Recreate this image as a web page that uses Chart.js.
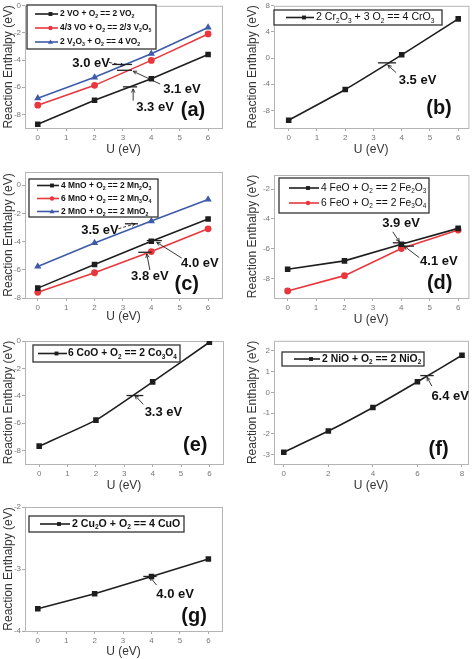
<!DOCTYPE html>
<html>
<head>
<meta charset="utf-8">
<script src="https://cdn.jsdelivr.net/npm/chart.js@4"></script>
<style>
  body { margin: 0; background: #fff; }
  #wrap { position: relative; width: 474px; height: 659px; overflow: hidden; }
  canvas { position: absolute; }
</style>
</head>
<body>
<div id="wrap">
  <canvas id="ca" width="237" height="165" style="left:0;top:0"></canvas>
  <canvas id="cb" width="237" height="165" style="left:237px;top:0"></canvas>
  <canvas id="cc" width="237" height="170" style="left:0;top:165px"></canvas>
  <canvas id="cd" width="237" height="170" style="left:237px;top:165px"></canvas>
  <canvas id="ce" width="237" height="165" style="left:0;top:335px"></canvas>
  <canvas id="cf" width="237" height="165" style="left:237px;top:335px"></canvas>
  <canvas id="cg" width="237" height="159" style="left:0;top:500px"></canvas>
</div>
<script>
const FONT = '"Liberation Sans", Arial, sans-serif';

// U values (eV)
const U = [0, 2, 4, 6];
const U8 = [0, 2, 4, 6, 8];

// (a) vanadium
const labelsA = ['2 VO + O_2 == 2 VO_2', '4/3 VO + O_2 == 2/3 V_2O_5', '2 V_2O_3 + O_2 == 4 VO_2'];
const vo_vo2 = [-8.72, -6.96, -5.37, -3.58];
const vo_v2o5 = [-7.32, -5.86, -4.02, -2.07];
const v2o3_vo2 = [-6.81, -5.27, -3.53, -1.6];
const yTicksA = [0, -2, -4, -6, -8];

// (b) chromium
const labelsB = ['2 Cr_2O_3 + 3 O_2 == 4 CrO_3'];
const cr2o3_cro3 = [-9.5, -4.8, 0.5, 6.0];
const yTicksB = [8, 4, 0, -4, -8];

// (c) manganese
const labelsC = ['4 MnO + O_2 == 2 Mn_2O_3', '6 MnO + O_2 == 2 Mn_3O_4', '2 MnO + O_2 == 2 MnO_2'];
const mno_mn2o3 = [-7.3, -5.62, -3.98, -2.4];
const mno_mn3o4 = [-7.6, -6.21, -4.71, -3.1];
const mno_mno2 = [-5.76, -4.1, -2.55, -1.02];
const yTicksC = [0, -2, -4, -6, -8];

// (d) iron
const labelsD = ['4 FeO + O_2 == 2 Fe_2O_3', '6 FeO + O_2 == 2 Fe_3O_4'];
const feo_fe2o3 = [-7.37, -6.81, -5.69, -4.63];
const feo_fe3o4 = [-8.83, -7.8, -5.98, -4.74];
const yTicksD = [-2, -4, -6, -8];

// (e) cobalt
const labelsE = ['6 CoO + O_2 == 2 Co_3O_4'];
const coo_co3o4 = [-7.69, -5.79, -2.99, -0.09];
const yTicksE = [0, -2, -4, -6, -8];

// (f) nickel
const labelsF = ['2 NiO + O_2 == 2 NiO_2'];
const nio_nio2 = [-2.89, -1.87, -0.73, 0.51, 1.79];
const yTicksF = [2, 1, 0, -1, -2, -3];

// (g) copper
const labelsG = ['2 Cu_2O + O_2 == 4 CuO'];
const cu2o_cuo = [-3.64, -3.4, -3.12, -2.84];
const yTicksG = [-2, -3, -4];

const xTicks6 = [0, 1, 2, 3, 4, 5, 6];
const xTicks8 = [0, 2, 4, 6, 8];

const BLACK = '#1e1e1e', RED = '#e8383d', BLUE = '#3d5ba8';

// text with "_x" subscripts
function richText(ctx, str, x, y, size, weight) {
  let cx = x;
  ctx.textBaseline = 'middle';
  ctx.textAlign = 'left';
  for (const p of str.split(/(_.)/)) {
    if (!p) continue;
    if (p[0] === '_') {
      ctx.font = weight + ' ' + (size * 0.62) + 'px ' + FONT;
      ctx.fillText(p[1], cx, y + size * 0.32);
      cx += ctx.measureText(p[1]).width;
    } else {
      ctx.font = weight + ' ' + size + 'px ' + FONT;
      ctx.fillText(p, cx, y);
      cx += ctx.measureText(p).width;
    }
  }
}

function marker(ctx, style, x, y, r) {
  ctx.beginPath();
  if (style === 'rect') {
    ctx.rect(x - r * 0.75, y - r * 0.75, r * 1.5, r * 1.5);
  } else if (style === 'circle') {
    ctx.arc(x, y, r * 0.85, 0, Math.PI * 2);
  } else {
    ctx.moveTo(x, y - r);
    ctx.lineTo(x + r, y + r * 0.7);
    ctx.lineTo(x - r, y + r * 0.7);
    ctx.closePath();
  }
  ctx.fill();
}

const framePlugin = {
  id: 'frame',
  beforeDatasetsDraw(chart) {
    const { ctx, chartArea: a } = chart;
    ctx.save();
    ctx.strokeStyle = '#b5b5b5';
    ctx.lineWidth = 1;
    ctx.strokeRect(a.left + 0.5, a.top + 0.5, a.right - a.left, a.bottom - a.top);
    ctx.restore();
  }
};

const legendPlugin = {
  id: 'lg',
  afterDatasetsDraw(chart, args, o) {
    const ctx = chart.ctx;
    ctx.save();
    ctx.fillStyle = '#fff';
    ctx.fillRect(o.box[0], o.box[1], o.box[2], o.box[3]);
    ctx.strokeStyle = '#333';
    ctx.lineWidth = 1.3;
    ctx.strokeRect(o.box[0], o.box[1], o.box[2], o.box[3]);
    chart.data.datasets.forEach((ds, i) => {
      const y = o.rows[i];
      ctx.strokeStyle = ds.borderColor;
      ctx.fillStyle = ds.borderColor;
      ctx.lineWidth = 1.6;
      ctx.beginPath();
      ctx.moveTo(o.line[0], y);
      ctx.lineTo(o.line[1], y);
      ctx.stroke();
      marker(ctx, ds.pointStyle, (o.line[0] + o.line[1]) / 2 + 4, y, 2.6);
      ctx.fillStyle = '#111';
      richText(ctx, ds.label, o.tx, y, o.size, o.weight);
    });
    ctx.restore();
  }
};

const notePlugin = {
  id: 'notes',
  afterDraw(chart, args, o) {
    const { ctx, scales: { x, y } } = chart;
    const px = v => x.getPixelForValue(v), py = v => y.getPixelForValue(v);
    ctx.save();
    (o.ticks || []).forEach(t => {
      ctx.strokeStyle = '#222';
      ctx.lineWidth = 1.3;
      ctx.beginPath();
      ctx.moveTo(px(t[0]), py(t[2]));
      ctx.lineTo(px(t[1]), py(t[2]));
      ctx.stroke();
    });
    (o.arrows || []).forEach(a => {
      const x1 = px(a[0]), y1 = py(a[1]), x2 = px(a[2]), y2 = py(a[3]);
      ctx.strokeStyle = '#222';
      ctx.lineWidth = 0.9;
      ctx.setLineDash(a[4] ? [3, 2] : []);
      ctx.beginPath();
      ctx.moveTo(x1, y1);
      ctx.lineTo(x2, y2);
      ctx.stroke();
      ctx.setLineDash([]);
      const ang = Math.atan2(y2 - y1, x2 - x1);
      ctx.beginPath();
      ctx.moveTo(x2 - 4 * Math.cos(ang - 0.45), y2 - 4 * Math.sin(ang - 0.45));
      ctx.lineTo(x2, y2);
      ctx.lineTo(x2 - 4 * Math.cos(ang + 0.45), y2 - 4 * Math.sin(ang + 0.45));
      ctx.stroke();
    });
    (o.texts || []).forEach(t => {
      ctx.fillStyle = '#111';
      ctx.font = 'bold ' + t[3] + 'px ' + FONT;
      ctx.textAlign = 'center';
      ctx.textBaseline = 'middle';
      ctx.fillText(t[0], px(t[1]), py(t[2]));
    });
    ctx.restore();
  }
};

function panel(id, p) {
  new Chart(document.getElementById(id), {
    type: 'scatter',
    data: {
      datasets: p.series.map(s => ({
        label: s.label,
        data: s.x.map((u, i) => ({ x: u, y: s.y[i] })),
        showLine: true,
        borderColor: s.color,
        backgroundColor: s.color,
        pointStyle: s.point,
        pointRadius: s.point === 'rect' ? 2.8 : 2.6,
        borderWidth: 1.6,
        tension: p.tension || 0
      }))
    },
    options: {
      responsive: false,
      animation: false,
      events: [],
      layout: { padding: { top: p.pad[0], right: p.pad[1], bottom: 0, left: 0 } },
      plugins: {
        legend: { display: false },
        tooltip: { enabled: false },
        lg: p.legend,
        notes: p.notes
      },
      scales: {
        x: {
          type: 'linear',
          min: p.xr[0], max: p.xr[1],
          afterBuildTicks: s => { s.ticks = p.xTicks.map(v => ({ value: v })); },
          afterFit: s => { s.height = p.xH; },
          grid: { drawOnChartArea: false, tickLength: 3, color: '#aaa' },
          border: { display: false },
          ticks: { padding: 2, color: '#777', font: { size: 8, family: FONT } },
          title: { display: true, text: 'U (eV)', color: '#333', padding: { top: 0, bottom: p.xtb }, font: { size: 12, family: FONT } }
        },
        y: {
          type: 'linear',
          min: p.yr[0], max: p.yr[1],
          afterBuildTicks: s => { s.ticks = p.yTicks.map(v => ({ value: v })); },
          afterFit: s => { s.width = p.yW; },
          grid: { drawOnChartArea: false, tickLength: 3, color: '#aaa' },
          border: { display: false },
          ticks: { padding: 1, color: '#777', font: { size: 8, family: FONT } },
          title: { display: true, text: 'Reaction Enthalpy (eV)', color: '#333', padding: { top: p.ytp, bottom: 0 }, font: { size: 12, family: FONT } }
        }
      }
    },
    plugins: [framePlugin, legendPlugin, notePlugin]
  });
}

panel('ca', {
  pad: [3, 15], yW: 25, xH: 37, xtb: 7.8, ytp: 1,
  xr: [-0.45, 6.49], yr: [-9, 0], xTicks: xTicks6, yTicks: yTicksA,
  series: [
    { label: labelsA[0], x: U, y: vo_vo2, color: BLACK, point: 'rect' },
    { label: labelsA[1], x: U, y: vo_v2o5, color: RED, point: 'circle' },
    { label: labelsA[2], x: U, y: v2o3_vo2, color: BLUE, point: 'triangle' }
  ],
  legend: { box: [27, 5, 129, 44], rows: [14, 28, 42], line: [35, 58], tx: 60, size: 8.4, weight: 'bold' },
  notes: {
    texts: [['3.0 eV', 1.88, -4.24, 13], ['3.1 eV', 5.08, -6.19, 13], ['3.3 eV', 4.13, -7.48, 13], ['(a)', 5.47, -7.7, 20]],
    arrows: [[2.51, -4.17, 3.04, -4.39, true], [4.31, -5.76, 3.36, -4.82], [3.36, -6.98, 3.36, -6.12]],
    ticks: [[2.62, 3.32, -4.32], [2.79, 3.32, -4.75], [3.0, 3.5, -5.97]]
  }
});

panel('cb', {
  pad: [3, 4], yW: 37, xH: 37, xtb: 7.8, ytp: 8, tension: 0.15,
  xr: [-0.52, 6.36], yr: [-10.7, 8], xTicks: xTicks6, yTicks: yTicksB,
  series: [{ label: labelsB[0], x: U, y: cr2o3_cro3, color: BLACK, point: 'rect' }],
  legend: { box: [37, 10, 168, 15], rows: [17.5], line: [49, 77], tx: 79, size: 10.6, weight: 'normal' },
  notes: {
    texts: [['3.5 eV', 4.56, -3.35, 13], ['(b)', 5.32, -7.67, 20]],
    arrows: [[3.8, -2.22, 3.51, -1.08]],
    ticks: [[3.16, 3.8, -0.73]]
  }
});

panel('cc', {
  pad: [7, 15], yW: 25, xH: 37, xtb: 10.8, ytp: 1,
  xr: [-0.45, 6.49], yr: [-8, 0.93], xTicks: xTicks6, yTicks: yTicksC,
  series: [
    { label: labelsC[0], x: U, y: mno_mn2o3, color: BLACK, point: 'rect' },
    { label: labelsC[1], x: U, y: mno_mn3o4, color: RED, point: 'circle' },
    { label: labelsC[2], x: U, y: mno_mno2, color: BLUE, point: 'triangle' }
  ],
  legend: { box: [29, 14, 129, 38], rows: [20.5, 33.5, 46.5], line: [37, 59], tx: 61, size: 8.4, weight: 'bold' },
  notes: {
    texts: [['3.5 eV', 2.19, -3.21, 13], ['4.0 eV', 5.71, -5.55, 13], ['3.8 eV', 3.95, -6.5, 13], ['(c)', 5.25, -7.02, 20]],
    arrows: [[2.84, -3.09, 3.43, -2.74, true], [5.07, -5.17, 4.19, -4.05], [3.95, -6.02, 3.84, -4.88]],
    ticks: [[3.07, 3.53, -2.74], [3.84, 4.37, -3.93], [3.54, 4.01, -4.76]]
  }
});

panel('cd', {
  pad: [10, 4], yW: 37, xH: 37, xtb: 7.8, ytp: 8,
  xr: [-0.48, 6.36], yr: [-9.3, -1.05], xTicks: xTicks6, yTicks: yTicksD,
  series: [
    { label: labelsD[0], x: U, y: feo_fe2o3, color: BLACK, point: 'rect' },
    { label: labelsD[1], x: U, y: feo_fe3o4, color: RED, point: 'circle' }
  ],
  legend: { box: [42, 13, 150, 35], rows: [23, 38], line: [52, 82], tx: 84, size: 10.3, weight: 'normal' },
  notes: {
    texts: [['3.9 eV', 3.99, -4.29, 13], ['4.1 eV', 5.32, -6.88, 13], ['(d)', 5.35, -8.34, 20]],
    arrows: [[3.7, -4.86, 3.93, -5.53], [4.63, -6.59, 4.1, -5.82]],
    ticks: [[3.7, 4.16, -5.6], [4.05, 4.45, -5.82]]
  }
});

panel('ce', {
  pad: [6, 14], yW: 25, xH: 36, xtb: 6.8, ytp: 1, tension: 0.15,
  xr: [-0.5, 6.48], yr: [-9, 0], xTicks: xTicks6, yTicks: yTicksE,
  series: [{ label: labelsE[0], x: U, y: coo_co3o4, color: BLACK, point: 'rect' }],
  legend: { box: [33, 10, 147, 17], rows: [18.5], line: [38, 67], tx: 68, size: 10.3, weight: 'bold' },
  notes: {
    texts: [['3.3 eV', 4.38, -5.25, 13], ['(e)', 5.5, -7.64, 20]],
    arrows: [[3.67, -4.64, 3.38, -3.99]],
    ticks: [[3.08, 3.67, -3.99]]
  }
});

panel('cf', {
  pad: [4, 6], yW: 37, xH: 36, xtb: 6.8, ytp: 8, tension: 0.15,
  xr: [-0.44, 8.27], yr: [-3.46, 2.49], xTicks: xTicks8, yTicks: yTicksF,
  series: [{ label: labelsF[0], x: U8, y: nio_nio2, color: BLACK, point: 'rect' }],
  legend: { box: [45, 17, 142, 14], rows: [24], line: [57, 83], tx: 85, size: 10.4, weight: 'bold' },
  notes: {
    texts: [['6.4 eV', 7.47, -0.18, 13], ['(f)', 6.95, -2.76, 20]],
    arrows: [[6.65, 0.3, 6.43, 0.73]],
    ticks: [[6.13, 6.73, 0.81]]
  }
});

panel('cg', {
  pad: [7, 15], yW: 25, xH: 28, xtb: 0, ytp: 1,
  xr: [-0.45, 6.48], yr: [-4, -2], xTicks: xTicks6, yTicks: yTicksG,
  series: [{ label: labelsG[0], x: U, y: cu2o_cuo, color: BLACK, point: 'rect' }],
  legend: { box: [29, 16, 155, 16], rows: [24], line: [40, 70], tx: 72, size: 10.6, weight: 'bold' },
  notes: {
    texts: [['4.0 eV', 4.83, -3.41, 13], ['(g)', 5.5, -3.76, 20]],
    arrows: [[4.18, -3.26, 3.95, -3.13]],
    ticks: [[3.71, 4.18, -3.12]]
  }
});
</script>
</body>
</html>
